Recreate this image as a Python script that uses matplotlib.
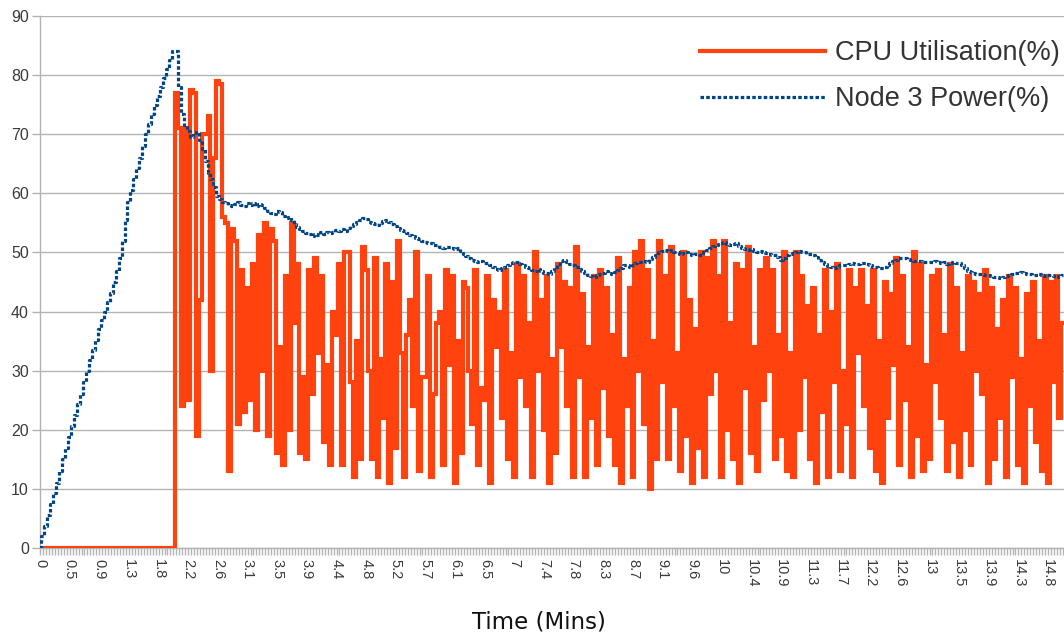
import matplotlib
matplotlib.use("Agg")
import matplotlib.pyplot as plt

# ---------------- data ----------------
tick_labels = ["0", "0.5", "0.9", "1.3", "1.8", "2.2", "2.6", "3.1", "3.5", "3.9",
               "4.4", "4.8", "5.2", "5.7", "6.1", "6.5", "7", "7.4", "7.8", "8.3",
               "8.7", "9.1", "9.6", "10", "10.4", "10.9", "11.3", "11.7", "12.2",
               "12.6", "13", "13.5", "13.9", "14.3", "14.8"]
samples_per_label = 10

node3_power = [
    0, 2, 3.8, 5.6, 7.5, 9.3, 11, 13, 15, 17,
    18.8, 20.6, 22.5, 24.3, 26, 28, 30, 31.8, 33.5, 35.2,
    37, 38.5, 40, 41.6, 43.2, 45, 46.8, 49, 52, 55.5,
    58.5, 60.5, 62.5, 64.3, 66, 68, 70, 71.8, 73.5, 75,
    76.5, 78, 79.5, 81, 82.5, 84, 84, 78, 73.5, 71.5,
    70.5, 69.5, 70.2, 70.4, 69, 67.5, 65.5, 63.5, 62.5, 61,
    59.5, 59, 58.5, 58.3, 58, 57.8, 58.2, 58.5, 58, 57.9,
    58.3, 58, 58.4, 57.9, 58.2, 58, 57.5, 57, 56.7, 56.5,
    57, 56.8, 56.2, 55.8, 56, 55.5, 54.8, 54.3, 54, 53.6,
    53.3, 53.1, 52.8, 53.2, 53, 53.4, 53.1, 53.5, 53.3, 53.5,
    53.8, 53.6, 54, 53.7, 54.2, 54.5, 54.8, 55.2, 55.5, 55.8,
    55.6, 55.2, 55, 54.8, 54.7, 55, 55.3, 55.5, 55.2, 54.8,
    54.5, 54.2, 53.8, 53.6, 53.3, 53, 52.8, 52.5, 52.3, 52,
    51.8, 51.6, 51.6, 51.3, 51.2, 51, 50.8, 51, 50.9, 50.7,
    50.5, 50.8, 50.2, 49.8, 49.4, 49.1, 48.8, 48.6, 48.4, 48.5,
    48.2, 48.2, 47.8, 47.5, 47.2, 47, 47.4, 47.6, 47.9, 48.2,
    48.4, 48.4, 48, 47.8, 47.6, 47.3, 47.1, 46.9, 47.2, 46.8,
    46.6, 46.5, 46.4, 46.9, 47.5, 48, 48.5, 48.7, 48.3, 48,
    47.8, 47.5, 47.2, 46.9, 46.5, 46.2, 46, 45.9, 46.1, 46.4,
    46.6, 46.9, 46.5, 46.4, 46.7, 47, 47.4, 47.9, 47.8, 47.5,
    47.9, 48.2, 48.4, 48.3, 48.6, 48.4, 48.9, 49.3, 49.6, 50,
    50.2, 50.4, 50.3, 50.4, 50.1, 50, 49.8, 49.9, 50, 49.7,
    49.6, 49.8, 49.5, 49.6, 50, 50.4, 50.8, 51.1, 51.3, 51.5,
    51.6, 51.8, 51.5, 51.2, 51.4, 51.6, 51.1, 50.8, 50.6, 50.4,
    50.5, 50.3, 50.1, 50.2, 50, 49.9, 49.8, 49.6, 49.6, 49.2,
    48.8, 49.1, 49.5, 49.8, 49.9, 50.1, 50.3, 50.1, 50, 49.8,
    49.8, 49.6, 49.2, 48.8, 48.4, 48, 47.7, 47.5, 47.4, 47.6,
    47.8, 47.9, 47.9, 48, 48.2, 48.1, 48, 48.2, 48.2, 48,
    47.8, 47.6, 47.5, 47.4, 47.4, 47.5, 47.8, 48.2, 48.5, 48.8,
    49, 49.1, 49.1, 48.9, 48.7, 48.6, 48.5, 48.6, 48.4, 48.4,
    48.4, 48.3, 48.5, 48.4, 48.2, 48.3, 48.1, 48.2, 48.3, 48.2,
    48.2, 47.8, 47.3, 46.9, 46.7, 46.5, 46.4, 46.4, 46.3, 46.2,
    46.2, 46, 45.9, 45.8, 45.7, 45.8, 46, 46.2, 46.4, 46.5,
    46.6, 46.7, 46.5, 46.4, 46.3, 46.2, 46.2, 46.3, 46.1, 46,
    46.1, 46.2, 46, 45.9, 46, 46.1,
]

cpu_util = [
    0, 0, 0, 0, 0, 0, 0, 0, 0, 0,
    0, 0, 0, 0, 0, 0, 0, 0, 0, 0,
    0, 0, 0, 0, 0, 0, 0, 0, 0, 0,
    0, 0, 0, 0, 0, 0, 0, 0, 0, 0,
    0, 0, 0, 0, 0, 0, 77, 71, 24, 71,
    25, 77.5, 77, 19, 42, 70, 70, 73, 30, 66,
    79, 78.5, 56, 55, 13, 54, 52, 21, 47, 23,
    44, 25, 48, 20, 53, 30, 55, 19, 54, 52,
    16, 34, 14, 46, 20, 55, 38, 48, 16, 29,
    15, 47, 26, 49, 33, 46, 18, 31, 14, 40,
    36, 48, 14, 50, 50, 28, 12, 35, 15, 51,
    47, 30, 15, 49, 12, 32, 22, 48, 11, 45,
    17, 52, 33, 12, 36, 42, 24, 50, 13, 29,
    29, 46, 12, 26, 38, 40, 14, 47, 31, 46,
    11, 35, 16, 45, 44, 30, 21, 47, 14, 27,
    25, 46, 11, 42, 34, 40, 22, 47, 15, 33,
    12, 48, 29, 46, 24, 38, 12, 50, 30, 42,
    20, 46, 11, 32, 16, 48, 34, 45, 24, 44,
    12, 51, 29, 43, 12, 34, 22, 46, 14, 47,
    27, 44, 19, 36, 14, 49, 11, 32, 24, 44,
    12, 50, 30, 52, 21, 47, 10, 35, 15, 52,
    28, 46, 15, 51, 24, 33, 13, 50, 19, 42,
    11, 37, 17, 50, 12, 49, 26, 52, 30, 46,
    12, 52, 20, 38, 15, 48, 11, 47, 27, 51,
    16, 34, 13, 47, 25, 49, 30, 47, 15, 36,
    19, 50, 13, 33, 12, 50, 20, 46, 29, 41,
    15, 44, 11, 36, 23, 47, 12, 40, 28, 48,
    13, 30, 21, 47, 12, 44, 33, 47, 24, 41,
    17, 47, 13, 35, 11, 45, 22, 43, 31, 49,
    14, 46, 25, 34, 12, 50, 19, 48, 13, 31,
    15, 46, 28, 47, 22, 36, 13, 48, 18, 44,
    12, 33, 20, 46, 14, 45, 30, 43, 26, 47,
    11, 44, 15, 37, 22, 42, 12, 46, 29, 44,
    14, 32, 11, 43, 24, 45, 18, 35, 13, 46,
    11, 45, 28, 46, 22, 38,
]

series_names = ["CPU Utilisation(%)", "Node 3 Power(%)"]
colors = ["#ff420e", "#004586"]

# ---------------- figure ----------------
W, H = 1064, 637
fig = plt.figure(figsize=(W / 100, H / 100), dpi=100)
ax = fig.add_axes([40 / W, (H - 548) / H, 1 - 40 / W, (548 - 16) / H])

x = list(range(len(cpu_util)))
grid_c = "#b3b3b3"
ax.set_ylim(0, 90)
ax.set_xlim(0, (W - 40) / 2.965)
ax.set_yticks(range(0, 91, 10))
ax.yaxis.grid(True, color=grid_c, lw=1)
ax.set_axisbelow(True)

l_cpu, = ax.plot(x, cpu_util, color=colors[0], lw=3.0, drawstyle="steps-mid",
                 solid_joinstyle="miter", label=series_names[0], zorder=3)
l_pow, = ax.plot(range(len(node3_power)), node3_power, color=colors[1], lw=2.3,
                 drawstyle="steps-mid",
                 linestyle=(0, (1.1, 0.7)), dash_capstyle="butt",
                 label=series_names[1], zorder=4)

for s in ["top", "right"]:
    ax.spines[s].set_visible(False)
for s in ["left", "bottom"]:
    ax.spines[s].set_color(grid_c)
    ax.spines[s].set_linewidth(1)

major = [i * samples_per_label for i in range(len(tick_labels))]
ax.set_xticks(major)
ax.set_xticklabels(tick_labels, rotation=-90, fontsize=10.5,
                   family="Liberation Sans", color="#3a3a3a")
ax.set_xticks(range(len(cpu_util)), minor=True)
ax.tick_params(axis="x", which="both", direction="out", length=5, width=1,
               color=grid_c, pad=3)
ax.tick_params(axis="y", direction="out", length=6, width=1, color=grid_c,
               labelsize=11.5, labelcolor="#3a3a3a", pad=2)
for t in ax.get_yticklabels():
    t.set_family("Liberation Sans")

fig.text(539 / W, 1 - 622 / H, "Time (Mins)", ha="center", va="center",
         fontsize=16.5, family="DejaVu Sans", color="#111111")

leg = ax.legend(handles=[l_cpu, l_pow], loc="upper left",
                bbox_to_anchor=(700 / W, 1 - 40 / H), bbox_transform=fig.transFigure,
                frameon=False, prop={"family": "Liberation Sans", "size": 19.5},
                handlelength=4.6, handletextpad=0.4, labelspacing=0.75,
                borderpad=0, borderaxespad=0)
for t in leg.get_texts():
    t.set_color("#333333")

fig.savefig("out.png", dpi=100)
